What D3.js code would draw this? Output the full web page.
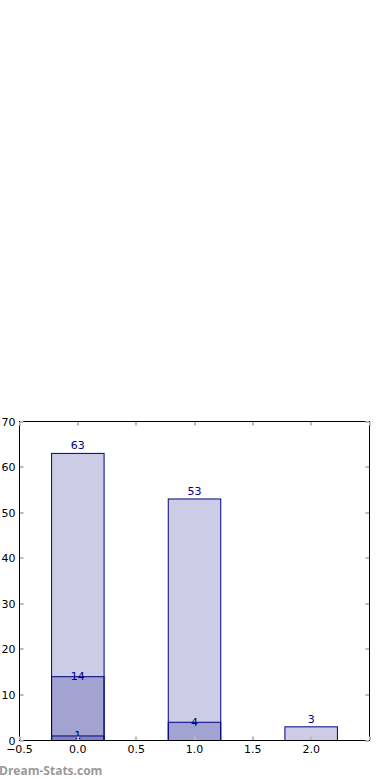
<!DOCTYPE html>
<html>
<head>
<meta charset="utf-8">
<script src="https://cdn.jsdelivr.net/npm/d3@7"></script>
<style>
  body { margin: 0; background: #fff; }
  svg { display: block; font-family: "DejaVu Sans", sans-serif; }
</style>
</head>
<body>
<svg id="chart" width="390" height="780"></svg>
<script>
// categories on the x axis (numeric positions)
var categories = [0, 1, 2];
// overlapping (not stacked) series, drawn back to front
var seriesTotal = [63, 53, 3];
var seriesMid = [14, 4, 0];
var seriesLow = [1, 0, 0];
var xTicks = [-0.5, 0.0, 0.5, 1.0, 1.5, 2.0];
var yTicks = [0, 10, 20, 30, 40, 50, 60, 70];

var layers = [seriesTotal, seriesMid, seriesLow];

var svg = d3.select("#chart");
// note: "top" is taken by window.top, so use other names
var pL = 19.5, pR = 369.5, pT = 421.5, pB = 740.5;

var x = d3.scaleLinear().domain([-0.5, 2.5]).range([pL, pR]);
var y = d3.scaleLinear().domain([0, 70]).range([pB, pT]);
var barW = 0.45;

var navy = "#000080";

// bars - each layer is navy with alpha 0.2, so overlap darkens
layers.forEach(function(vals, li){
    var g = svg.append("g");
    categories.forEach(function(c, i){
	var v = vals[i];
	if(!v){return;}
	g.append("rect")
	    .attr("x", x(c - barW/2))
	    .attr("y", y(v))
	    .attr("width", x(c + barW/2) - x(c - barW/2))
	    .attr("height", y(0) - y(v))
	    .attr("fill", "rgba(0,0,128,0.2)")
	    .attr("stroke", navy)
	    .attr("stroke-width", 1);
    });
});

// value labels
layers.forEach(function(vals, li){
    categories.forEach(function(c, i){
	var v = vals[i];
	if(!v){return;}
	svg.append("text")
	    .attr("x", x(c))
	    .attr("y", y(v) + (li == 0 ? -4 : 3.5))
	    .attr("text-anchor", "middle")
	    .attr("font-size", 11)
	    .attr("fill", navy)
	    .text(v);
    });
});

// frame
svg.append("rect")
    .attr("x", pL).attr("y", pT)
    .attr("width", pR - pL).attr("height", pB - pT)
    .attr("fill", "none").attr("stroke", "#000").attr("stroke-width", 1);

// ticks (inward, grey, matplotlib style)
var tickCol = "#bbb";
xTicks.concat([2.5]).forEach(function(t){
    var px = Math.round(x(t));
    svg.append("line").attr("x1", px).attr("x2", px).attr("y1", pB - 0.5).attr("y2", pB - 4)
	.attr("stroke", tickCol).attr("stroke-width", 2);
    svg.append("line").attr("x1", px).attr("x2", px).attr("y1", pT + 0.5).attr("y2", pT + 4)
	.attr("stroke", tickCol).attr("stroke-width", 2);
});
yTicks.forEach(function(t){
    var py = Math.round(y(t));
    svg.append("line").attr("x1", pL + 0.5).attr("x2", pL + 4).attr("y1", py).attr("y2", py)
	.attr("stroke", tickCol).attr("stroke-width", 2);
    svg.append("line").attr("x1", pR - 0.5).attr("x2", pR - 4).attr("y1", py).attr("y2", py)
	.attr("stroke", tickCol).attr("stroke-width", 2);
});

// tick labels
svg.selectAll(".xl").data(xTicks).enter().append("text")
    .attr("class", "xl")
    .attr("x", function(d){return x(d);})
    .attr("y", pB + 12)
    .attr("text-anchor", "middle")
    .attr("font-size", 11)
    .attr("fill", "#000")
    .text(function(d){return d3.format(".1f")(d).replace("-", "\u2212");});

svg.selectAll(".yl").data(yTicks).enter().append("text")
    .attr("class", "yl")
    .attr("x", pL - 4)
    .attr("y", function(d){return y(d) + 4;})
    .attr("text-anchor", "end")
    .attr("font-size", 11)
    .attr("fill", "#000")
    .text(function(d){return d;});

// watermark
svg.append("text")
    .attr("x", -1).attr("y", 775)
    .attr("font-family", "'Open Sans', sans-serif")
    .attr("font-size", 12)
    .attr("font-weight", "bold")
    .attr("fill", "#999")
    .text("Dream-Stats.com");
</script>
</body>
</html>
